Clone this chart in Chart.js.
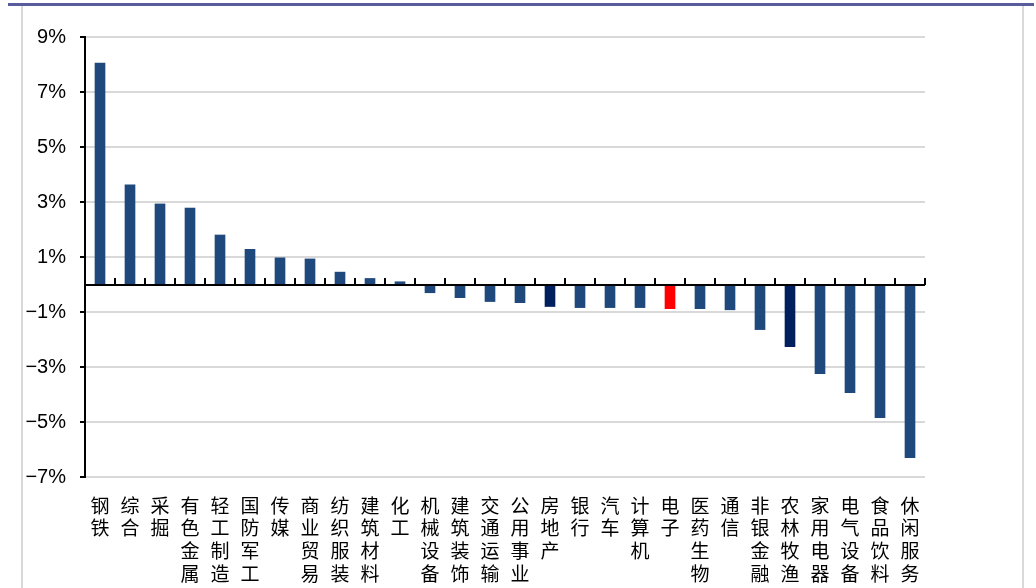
<!DOCTYPE html>
<html>
<head>
<meta charset="utf-8">
<script src="https://cdn.jsdelivr.net/npm/chart.js@4/dist/chart.umd.min.js"></script>
<style>
html,body{margin:0;padding:0;background:#fff;}
#wrap{position:relative;width:1036px;height:588px;}
canvas{display:block;}
</style>
</head>
<body>
<div id="wrap"><canvas id="c" width="1036" height="588"></canvas></div>
<script>
const categories = ['钢铁','综合','采掘','有色金属','轻工制造','国防军工','传媒','商业贸易','纺织服装','建筑材料','化工','机械设备','建筑装饰','交通运输','公用事业','房地产','银行','汽车','计算机','电子','医药生物','通信','非银金融','农林牧渔','家用电器','电气设备','食品饮料','休闲服务'];
const changePct = [8.05,3.62,2.93,2.78,1.80,1.28,0.97,0.93,0.45,0.22,0.10,-0.30,-0.48,-0.62,-0.66,-0.80,-0.84,-0.84,-0.84,-0.88,-0.88,-0.92,-1.64,-2.26,-3.24,-3.93,-4.84,-6.30];
const yTickValues = [-7,-5,-3,-1,1,3,5,7,9];

const baseColor = '#1F497D';
const highlightColors = {'电子':'#FF0000','房地产':'#001F5F','农林牧渔':'#001F5F'};
const barColors = categories.map(c => highlightColors[c] || baseColor);

const frame = {
  id:'frame',
  beforeDraw(chart){
    const ctx = chart.ctx;
    ctx.save();
    ctx.fillStyle = '#D9D9D9';
    ctx.fillRect(21, 6, 2, 582);
    ctx.fillRect(1022, 6, 2, 582);
    ctx.fillStyle = '#585C9C';
    ctx.fillRect(8, 3, 1026, 3);
    ctx.restore();
  },
  afterDatasetsDraw(chart){
    const ctx = chart.ctx, x = chart.scales.x, y = chart.scales.y;
    const y0 = Math.round(y.getPixelForValue(0));
    const left = chart.chartArea.left, right = chart.chartArea.right;
    ctx.save();
    ctx.strokeStyle = '#000';
    ctx.lineWidth = 2;
    ctx.beginPath();
    ctx.moveTo(left, y0); ctx.lineTo(right, y0);
    for (let i = 1; i <= categories.length; i++) {
      const px = Math.round((x.getPixelForValue(i-1) + (i < categories.length ? x.getPixelForValue(i) : 2*x.getPixelForValue(i-1) - x.getPixelForValue(i-2))) / 2);
      ctx.moveTo(px, y0); ctx.lineTo(px, y0 - 7);
    }
    ctx.stroke();
    ctx.restore();
  }
};

new Chart(document.getElementById('c'), {
  type:'bar',
  data:{
    labels: categories.map(c => [...c]),
    datasets:[{data: changePct, backgroundColor: barColors, barThickness: 10}]
  },
  options:{
    responsive:false,
    animation:false,
    layout:{padding:{left:0,right:111,top:37,bottom:0}},
    plugins:{legend:{display:false},tooltip:{enabled:false}},
    scales:{
      x:{
        grid:{display:false},
        border:{display:false},
        ticks:{
          color:'#000',
          maxRotation:0, minRotation:0, autoSkip:false,
          padding:9,
          font:{family:"'Noto Sans CJK SC','Noto Sans CJK JP',sans-serif", size:19, lineHeight:1.2}
        },
        afterFit(s){ s.height = 111; }
      },
      y:{
        min:-7, max:9,
        afterBuildTicks(s){ s.ticks = yTickValues.map(v => ({value:v})); },
        grid:{color:'#D9D9D9', lineWidth:2, tickColor:'#000', tickLength:5, drawTicks:true},
        border:{display:true, color:'#000', width:2},
        ticks:{
          color:'#000', padding:14,
          font:{family:"'Liberation Sans Narrow','Liberation Sans',Arial,sans-serif", size:20},
          callback(v){ return (v < 0 ? '\u2212' + Math.abs(v) : v) + '%'; }
        },
        afterFit(s){ s.width = 85; }
      }
    }
  },
  plugins:[frame]
});
</script>
</body>
</html>
